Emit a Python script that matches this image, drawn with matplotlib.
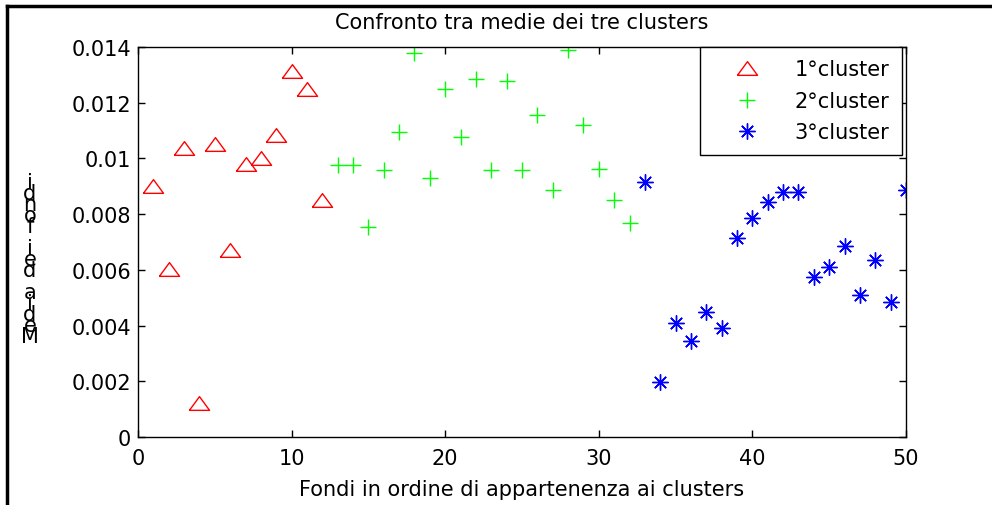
import matplotlib
matplotlib.use("Agg")
import matplotlib.pyplot as plt
import numpy as np

plt.rcParams['font.family'] = ['DejaVu Sans']

# ---- data ----
x1 = list(range(1, 13))
y1 = [0.00901, 0.00603, 0.01037, 0.00122, 0.01052, 0.00671, 0.00980, 0.01002,
      0.01084, 0.01314, 0.01249, 0.00851]
x2 = list(range(13, 33))
y2 = [0.00976, 0.00976, 0.00754, 0.00957, 0.01095, 0.01378, 0.00930, 0.01250,
      0.01077, 0.01285, 0.00957, 0.01278, 0.00957, 0.01157, 0.00885, 0.01391,
      0.01120, 0.00962, 0.00849, 0.00768]
x3 = list(range(33, 51))
y3 = [0.00917, 0.00196, 0.00409, 0.00345, 0.00447, 0.00391, 0.00714, 0.00786,
      0.00844, 0.00880, 0.00880, 0.00573, 0.00610, 0.00686, 0.00510, 0.00636,
      0.00483, 0.00887]
labels = ['1°cluster', '2°cluster', '3°cluster']
xticks = [0, 10, 20, 30, 40, 50]
yticks = [0, 0.002, 0.004, 0.006, 0.008, 0.01, 0.012, 0.014]
ytick_labels = ['0', '0.002', '0.004', '0.006', '0.008', '0.01', '0.012', '0.014']
title = 'Confronto tra medie dei tre clusters'
xlabel = 'Fondi in ordine di appartenenza ai clusters'
ylabel = 'Media dei fondi'

W, H = 992, 506
fig = plt.figure(figsize=(W / 100, H / 100), dpi=100)
ax = fig.add_axes([138 / W, 1 - 438 / H, (906 - 138) / W, (438 - 48) / H])

fs = 15
tri = [(-1, -0.68), (1, -0.68), (0, 0.68), (-1, -0.68)]
ax.plot(x1, y1, linestyle='none', marker=tri, markersize=14.5, markerfacecolor='none',
        markeredgecolor=(1, 0, 0), markeredgewidth=1.0, label=labels[0])
ax.plot(x2, y2, linestyle='none', marker='+', markersize=11,
        markeredgecolor=(0, 1, 0), markeredgewidth=1.0, label=labels[1])
ax.plot(x3, y3, linestyle='none', marker=(8, 2, 0), markersize=11.5,
        markeredgecolor=(0, 0, 1), markeredgewidth=1.0, label=labels[2])

ax.set_xlim(0, 50)
ax.set_ylim(0, 0.014)
ax.set_xticks(xticks)
ax.set_xticklabels([str(t) for t in xticks])
ax.set_yticks(yticks)
ax.set_yticklabels(ytick_labels)
ax.tick_params(direction='in', length=5, width=1, top=True, right=True,
               labelsize=fs)
ax.tick_params(axis='x', pad=8)
ax.tick_params(axis='y', pad=5)
for s in ax.spines.values():
    s.set_linewidth(1.0)

ax.set_title(title, fontsize=fs, pad=14)
ax.set_xlabel(xlabel, fontsize=fs, labelpad=8)

# stacked y label (characters upright, bottom to top)
for k, ch in enumerate(ylabel):
    yc = 337 - 11 * k
    fig.text(30 / W, 1 - yc / H, ch, fontsize=fs, ha='center', va='center')

leg = ax.legend(loc='upper right', bbox_to_anchor=(902 / W, 1 - 48 / H),
                bbox_transform=fig.transFigure, borderaxespad=0, fontsize=fs,
                fancybox=False, framealpha=1, edgecolor='black',
                handlelength=3.3, handletextpad=0.65, labelspacing=0.55,
                borderpad=0.6)
leg.get_frame().set_linewidth(1.0)

# outer border lines (top and left)
fig.add_artist(plt.Line2D([7 / W, 1], [1 - 7 / H, 1 - 7 / H], color='black', lw=2.5,
                          transform=fig.transFigure))
fig.add_artist(plt.Line2D([7 / W, 7 / W], [0, 1 - 7 / H], color='black', lw=2.5,
                          transform=fig.transFigure))

fig.savefig('out.png', dpi=100)
